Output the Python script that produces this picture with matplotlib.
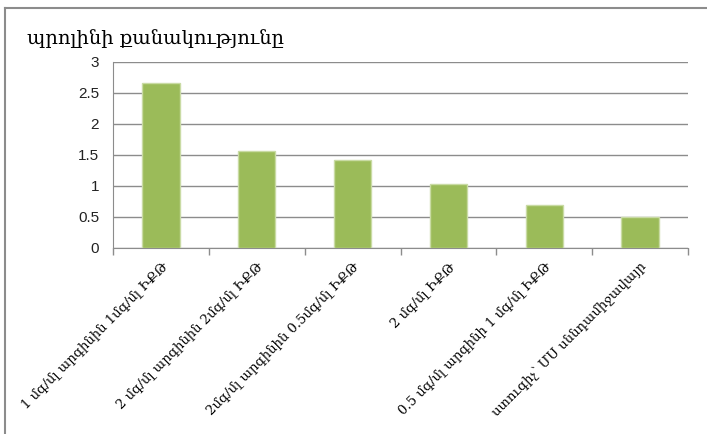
import matplotlib.pyplot as plt
import numpy as np

title = "պրոլինի քանակությունը"
categories = [
    "1 մգ/մլ արգինին 1մգ/մլ ԻՔԹ",
    "2 մգ/մլ արգինին 2մգ/մլ ԻՔԹ",
    "2մգ/մլ արգինին 0.5մգ/մլ ԻՔԹ",
    "2 մգ/մլ ԻՔԹ",
    "0.5 մգ/մլ արգինի 1 մգ/մլ ԻՔԹ",
    "ստուգիչ՝ ՄՍ սննդամիջավայր",
]
values = [2.66, 1.55, 1.41, 1.02, 0.68, 0.49]
yticks = [0, 0.5, 1, 1.5, 2, 2.5, 3]

fig = plt.figure(figsize=(7.07, 4.34), dpi=100)
W, H = 707, 434
ax = fig.add_axes([113 / W, 1 - 247.5 / H, (688 - 113) / W, (247.5 - 61.5) / H])

x = np.arange(len(values))
ax.bar(x, values, width=0.39, color="#9BBB59", edgecolor="#C9DBA4", linewidth=1, zorder=3)

ax.set_xlim(-0.5, len(values) - 0.5)
ax.set_ylim(0, 3)
ax.set_yticks(yticks)
ax.set_yticklabels([f"{t:g}" for t in yticks], fontsize=11, family="Liberation Sans", color="#222222")
ax.yaxis.grid(True, color="#8c8c8c", linewidth=1, zorder=0)
ax.tick_params(axis="y", length=0, pad=10)

# ticks at category borders
ax.set_xticks(np.arange(-0.5, len(values), 1))
ax.set_xticklabels([])
ax.tick_params(axis="x", length=5, color="#8c8c8c", width=1)
ax.set_xticks(x, minor=True)
ax.set_xticklabels(categories, minor=True, rotation=45, ha="right", va="top",
                   rotation_mode="anchor", fontsize=9.5, family="DejaVu Serif")
ax.tick_params(axis="x", which="minor", length=0, pad=9)

for s in ["top", "right"]:
    ax.spines[s].set_visible(False)
for s in ["left", "bottom"]:
    ax.spines[s].set_color("#8c8c8c")

fig.text(27 / W, 1 - 44 / H, title, fontsize=14, family="DejaVu Serif", va="baseline")

# outer chart border
fig.add_artist(plt.Line2D([5 / W, 5 / W], [0, 1 - 8 / H], color="#8c8c8c", linewidth=1.5))
fig.add_artist(plt.Line2D([5 / W, 1], [1 - 8 / H, 1 - 8 / H], color="#8c8c8c", linewidth=1.5))

fig.savefig("out.png", dpi=100)
